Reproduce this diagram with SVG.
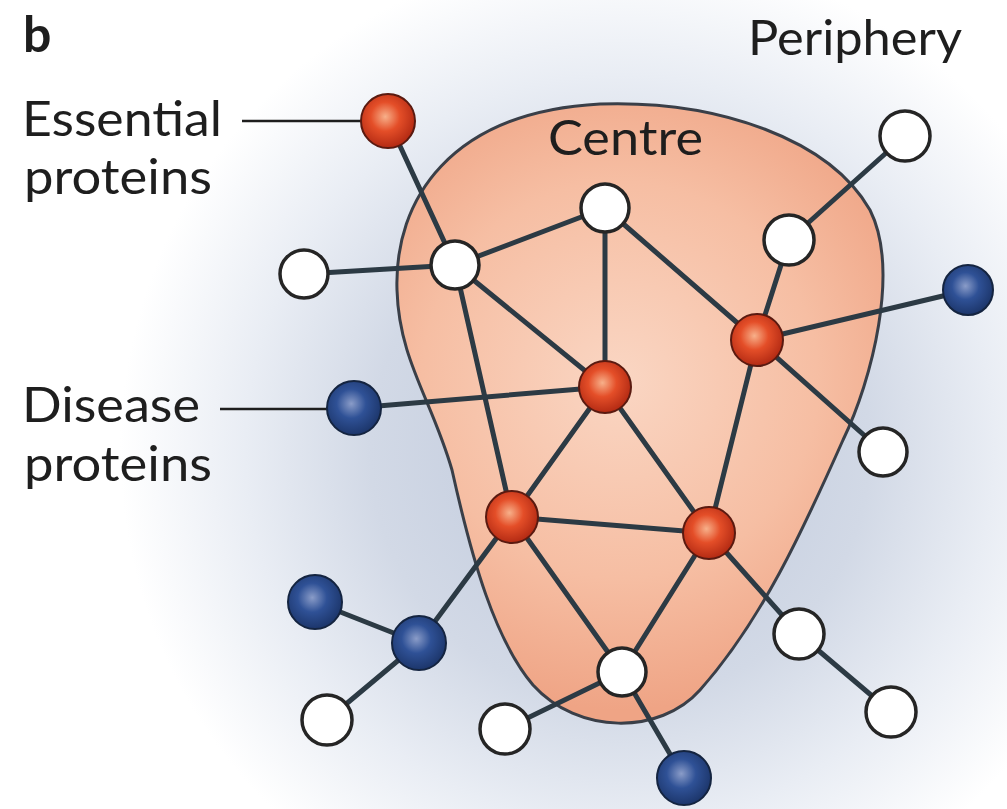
<svg xmlns="http://www.w3.org/2000/svg" width="1007" height="809" viewBox="0 0 1007 809">
<defs>
<radialGradient id="bg" cx="620" cy="450" r="500" gradientUnits="userSpaceOnUse">
<stop offset="0" stop-color="#bcc6da"/>
<stop offset="0.5" stop-color="#d2d9e6"/>
<stop offset="0.75" stop-color="#e9edf4"/>
<stop offset="1" stop-color="#ffffff"/>
</radialGradient>
<radialGradient id="blob" cx="620" cy="380" r="330" gradientUnits="userSpaceOnUse">
<stop offset="0" stop-color="#fad6c3"/>
<stop offset="0.6" stop-color="#f6bea3"/>
<stop offset="1" stop-color="#efa485"/>
</radialGradient>
<radialGradient id="red" cx="0.45" cy="0.42" r="0.6">
<stop offset="0" stop-color="#f7b08a"/>
<stop offset="0.45" stop-color="#e44e28"/>
<stop offset="1" stop-color="#b02812"/>
</radialGradient>
<radialGradient id="blue" cx="0.45" cy="0.42" r="0.6">
<stop offset="0" stop-color="#8a9cc8"/>
<stop offset="0.45" stop-color="#2f5196"/>
<stop offset="1" stop-color="#1b3468"/>
</radialGradient>
<style>
.lbl{font-family:Lato,"Liberation Sans",sans-serif;fill:#1e1e1e;}
.edge{stroke:#2c3a44;stroke-width:5;stroke-linecap:round;fill:none;}
.w{fill:#ffffff;stroke:#252525;stroke-width:3.5;}
.r{fill:url(#red);stroke:#5a1a10;stroke-width:2;}
.b{fill:url(#blue);stroke:#142440;stroke-width:2;}
.ptr{stroke:#1e1e1e;stroke-width:2.5;}
</style>
</defs>
<rect width="1007" height="809" fill="url(#bg)"/>
<g id="centre-region">
<path d="M 397,290 C 394,200 450,112 600,104 C 720,100 830,140 870,210 C 900,270 872,380 843,440 C 803,530 762,620 700,690 C 660,735 578,735 533,685 C 495,640 472,560 452,470 C 432,400 399,360 397,290 Z" fill="url(#blob)" stroke="#3a3f48" stroke-width="3"/>
</g>
<g id="labels">
<text class="lbl" x="23" y="52" font-size="50" font-weight="bold">b</text>
<text class="lbl" x="22" y="136" font-size="48" textLength="200" lengthAdjust="spacingAndGlyphs">Essential</text>
<text class="lbl" x="24" y="194" font-size="48" textLength="188" lengthAdjust="spacingAndGlyphs">proteins</text>
<text class="lbl" x="22" y="422" font-size="48" textLength="178" lengthAdjust="spacingAndGlyphs">Disease</text>
<text class="lbl" x="24" y="481" font-size="48" textLength="188" lengthAdjust="spacingAndGlyphs">proteins</text>
<text class="lbl" x="748" y="55" font-size="48" textLength="214" lengthAdjust="spacingAndGlyphs">Periphery</text>
<text class="lbl" x="548" y="155" font-size="48" textLength="155" lengthAdjust="spacingAndGlyphs">Centre</text>
<line class="ptr" x1="242" y1="121" x2="362" y2="121"/>
<line class="ptr" x1="220" y1="409" x2="330" y2="409"/>
</g>
<g id="connectors">
<line class="edge" x1="388" y1="120" x2="455" y2="265"/>
<line class="edge" x1="304" y1="274" x2="455" y2="265"/>
<line class="edge" x1="455" y1="265" x2="605" y2="208"/>
<line class="edge" x1="455" y1="265" x2="605" y2="387"/>
<line class="edge" x1="455" y1="265" x2="512" y2="517"/>
<line class="edge" x1="605" y1="208" x2="605" y2="387"/>
<line class="edge" x1="605" y1="208" x2="757" y2="340"/>
<line class="edge" x1="905" y1="136" x2="789" y2="240"/>
<line class="edge" x1="789" y1="240" x2="757" y2="340"/>
<line class="edge" x1="968" y1="290" x2="757" y2="340"/>
<line class="edge" x1="757" y1="340" x2="883" y2="452"/>
<line class="edge" x1="757" y1="340" x2="709" y2="533"/>
<line class="edge" x1="605" y1="387" x2="354" y2="408"/>
<line class="edge" x1="605" y1="387" x2="512" y2="517"/>
<line class="edge" x1="605" y1="387" x2="709" y2="533"/>
<line class="edge" x1="512" y1="517" x2="709" y2="533"/>
<line class="edge" x1="512" y1="517" x2="419" y2="643"/>
<line class="edge" x1="512" y1="517" x2="622" y2="672"/>
<line class="edge" x1="709" y1="533" x2="622" y2="672"/>
<line class="edge" x1="709" y1="533" x2="799" y2="634"/>
<line class="edge" x1="799" y1="634" x2="891" y2="712"/>
<line class="edge" x1="315" y1="602" x2="419" y2="643"/>
<line class="edge" x1="419" y1="643" x2="327" y2="720"/>
<line class="edge" x1="622" y1="672" x2="505" y2="729"/>
<line class="edge" x1="622" y1="672" x2="684" y2="778"/>
</g>
<g id="n-essential"><circle class="r" cx="388" cy="121" r="27"/></g>
<g id="n-w1"><circle class="w" cx="304" cy="274" r="24"/></g>
<g id="n-w2"><circle class="w" cx="455" cy="265" r="24"/></g>
<g id="n-w3"><circle class="w" cx="605" cy="208" r="24"/></g>
<g id="n-w4"><circle class="w" cx="905" cy="136" r="25"/></g>
<g id="n-w5"><circle class="w" cx="789" cy="240" r="25"/></g>
<g id="n-b1"><circle class="b" cx="968" cy="290" r="25"/></g>
<g id="n-r1"><circle class="r" cx="757" cy="340" r="26"/></g>
<g id="n-r2"><circle class="r" cx="605" cy="387" r="26"/></g>
<g id="n-b2"><circle class="b" cx="354" cy="408" r="27"/></g>
<g id="n-w6"><circle class="w" cx="883" cy="452" r="24"/></g>
<g id="n-r3"><circle class="r" cx="512" cy="517" r="26"/></g>
<g id="n-r4"><circle class="r" cx="709" cy="533" r="26"/></g>
<g id="n-b3"><circle class="b" cx="315" cy="602" r="27"/></g>
<g id="n-b4"><circle class="b" cx="419" cy="643" r="27"/></g>
<g id="n-w7"><circle class="w" cx="799" cy="634" r="25"/></g>
<g id="n-w8"><circle class="w" cx="622" cy="672" r="24"/></g>
<g id="n-w9"><circle class="w" cx="327" cy="720" r="25"/></g>
<g id="n-w10"><circle class="w" cx="505" cy="729" r="25"/></g>
<g id="n-w11"><circle class="w" cx="891" cy="712" r="25"/></g>
<g id="n-b5"><circle class="b" cx="684" cy="778" r="27"/></g>
</svg>
